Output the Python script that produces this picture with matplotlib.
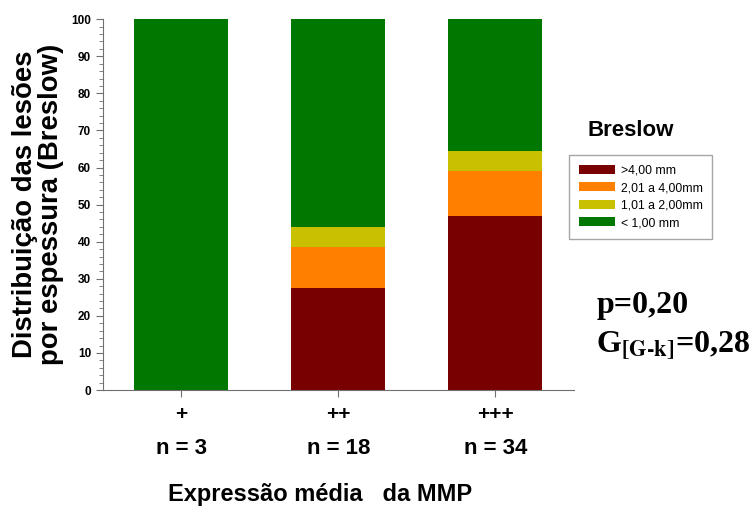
import numpy as np
import matplotlib as mpl
mpl.use('Agg')
import matplotlib.pyplot as plt
from matplotlib.patches import Patch
from matplotlib.ticker import MultipleLocator

plt.rcParams['font.family'] = ['Liberation Sans', 'DejaVu Sans']
plt.rcParams['mathtext.fontset'] = 'stix'

# data (percent of lesions per Breslow class)
groups = ['+', '++', '+++']
n_labels = ['n = 3', 'n = 18', 'n = 34']
gt4 = [0.0, 27.5, 47.0]
b201_400 = [0.0, 11.0, 12.0]
b101_200 = [0.0, 5.5, 5.5]
lt1 = [100.0, 56.0, 35.5]

classes = ['>4,00 mm', '2,01 a 4,00mm', '1,01 a 2,00mm', '< 1,00 mm']
colors = ['#780000', '#ff8000', '#c8c000', '#007800']

fig = plt.figure(figsize=(7.51, 5.18), dpi=100)
ax = fig.add_axes([0.137, 0.247, 0.627, 0.716])

x = np.arange(len(groups))
bottom = np.zeros(len(groups))
for vals, col in zip([gt4, b201_400, b101_200, lt1], colors):
    ax.bar(x, vals, width=0.6, bottom=bottom, color=col, edgecolor='none')
    bottom += np.array(vals)

ax.set_xlim(-0.5, 2.5)
ax.set_ylim(0, 100)
ax.yaxis.set_major_locator(MultipleLocator(10))
ax.yaxis.set_minor_locator(MultipleLocator(2))
for side in ['top', 'right']:
    ax.spines[side].set_visible(False)
for side in ['left', 'bottom']:
    ax.spines[side].set_color('#707070')
ax.tick_params(axis='both', which='major', length=5, color='#707070', direction='out')
ax.tick_params(axis='y', which='minor', length=3, color='#707070')
for lab in ax.get_yticklabels():
    lab.set_fontweight('bold')
    lab.set_fontsize(8.5)

ax.set_xticks(x)
ax.set_xticklabels(groups, fontsize=15, fontweight='bold')
ax.tick_params(axis='x', pad=6)
trans = ax.get_xaxis_transform()
for xi, nl in zip(x, n_labels):
    ax.text(xi, -0.158, nl, transform=trans, ha='center', va='center',
            fontsize=16, fontweight='bold')

fig.text(0.426, 0.045, 'Expressão média   da MMP', ha='center', va='center',
         fontsize=17, fontweight='bold')
ax.set_ylabel('Distribuição das lesões\npor espessura (Breslow)', fontsize=19.8,
              fontweight='bold', labelpad=5, linespacing=1.0)

handles = [Patch(facecolor=c, edgecolor='none') for c in colors]
fig.text(0.84, 0.748, 'Breslow', ha='center', va='center', fontsize=16,
         fontweight='bold')
leg = fig.legend(handles, classes, loc='upper left', bbox_to_anchor=(0.750, 0.713),
                 fontsize=8.8, frameon=True, fancybox=False, edgecolor='#909090',
                 handlelength=2.9, handleheight=0.75, borderpad=0.8,
                 labelspacing=0.45, handletextpad=0.5)
leg.get_frame().set_linewidth(1.0)

fig.text(0.794, 0.396, 'p=0,20', fontsize=23, fontweight='bold',
         family='Liberation Serif', ha='left', va='baseline')
fig.text(0.794, 0.320, 'G$_{\\mathbf{[G\u2010k]}}$=0,28', fontsize=23, fontweight='bold',
         family='Liberation Serif', ha='left', va='baseline')

fig.savefig('out.png', dpi=100)
